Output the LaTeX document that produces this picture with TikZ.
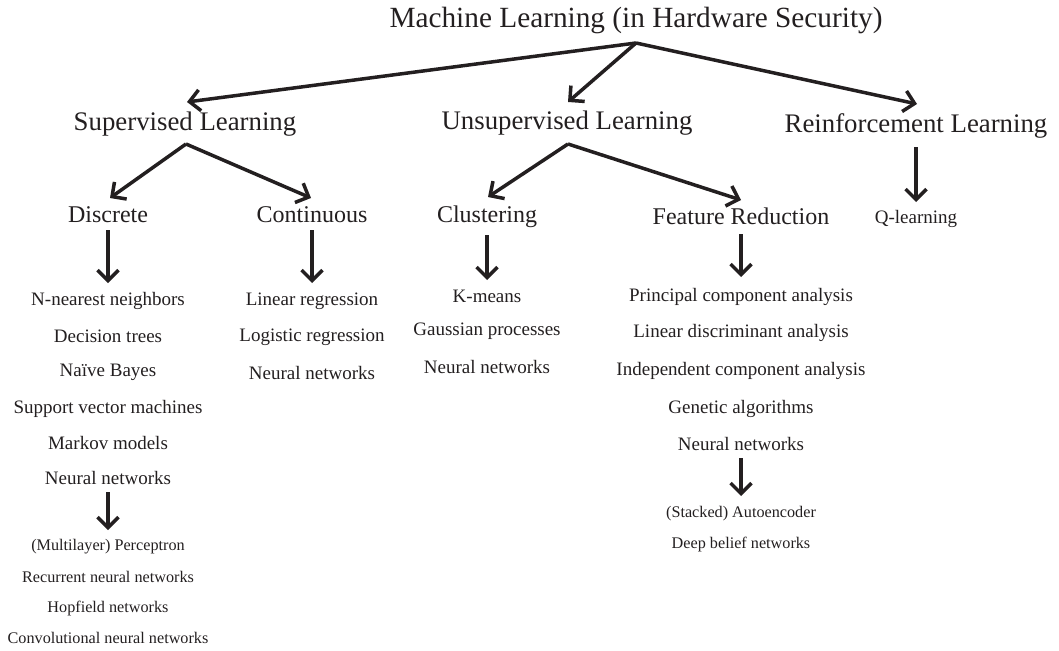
\documentclass[tikz,border=0pt]{standalone}
\usepackage{fontspec}
\setmainfont{Liberation Serif}
\usetikzlibrary{arrows.meta,calc}
\definecolor{ink}{RGB}{35,31,32}
\begin{document}
\begin{tikzpicture}[x=1pt,y=-1pt,
  every node/.style={inner sep=0pt, anchor=base, text=ink},
  lvlzero/.style={font=\fontsize{29.3}{32}\selectfont},
  lvlone/.style={font=\fontsize{26.8}{30}\selectfont},
  lvltwo/.style={font=\fontsize{24}{27}\selectfont},
  itemtext/.style={font=\fontsize{19}{22}\selectfont},
  subtext/.style={font=\fontsize{16.2}{19}\selectfont},
  arr/.style={draw=ink, line width=3.5pt, -{Straight Barb[length=10.5pt,width=21pt]}}
]
\useasboundingbox (0,0) rectangle (1059,650);

% level 0
\node[lvlzero] (title) at (636,28) {Machine Learning (in Hardware Security)};
% level 1
\node[lvlone] (sup) at (185,131) {Supervised Learning};
\node[lvlone] (uns) at (567,129) {Unsupervised Learning};
\node[lvlone] (rei) at (916,132) {Reinforcement Learning};
% level 2
\node[lvltwo] (disc) at (108,222) {Discrete};
\node[lvltwo] (cont) at (312,222) {Continuous};
\node[lvltwo] (clus) at (487,222) {Clustering};
\node[lvltwo] (fr) at (741,224) {Feature Reduction};
\node[itemtext] (q) at (916,223) {Q-learning};

% discrete items
\node[itemtext] (d1) at (108,305) {N-nearest neighbors};
\node[itemtext] (d2) at (108,342) {Decision trees};
\node[itemtext] (d3) at (108,376) {Naïve Bayes};
\node[itemtext] (d4) at (108,413) {Support vector machines};
\node[itemtext] (d5) at (108,449) {Markov models};
\node[itemtext] (d6) at (108,484) {Neural networks};
\node[subtext] (s1) at (108,550) {(Multilayer) Perceptron};
\node[subtext] (s2) at (108,582) {Recurrent neural networks};
\node[subtext] (s3) at (108,612) {Hopfield networks};
\node[subtext] (s4) at (108,643) {Convolutional neural networks};

% continuous items
\node[itemtext] (c1) at (312,305) {Linear regression};
\node[itemtext] (c2) at (312,341) {Logistic regression};
\node[itemtext] (c3) at (312,379) {Neural networks};

% clustering items
\node[itemtext] (k1) at (487,302) {K-means};
\node[itemtext] (k2) at (487,335) {Gaussian processes};
\node[itemtext] (k3) at (487,373) {Neural networks};

% feature reduction items
\node[itemtext] (f1) at (741,301) {Principal component analysis};
\node[itemtext] (f2) at (741,337) {Linear discriminant analysis};
\node[itemtext] (f3) at (741,375) {Independent component analysis};
\node[itemtext] (f4) at (741,413) {Genetic algorithms};
\node[itemtext] (f5) at (741,450) {Neural networks};
\node[subtext] (g1) at (741,517) {(Stacked) Autoencoder};
\node[subtext] (g2) at (741,548) {Deep belief networks};

% arrows
\draw[arr] ($(title.base)+(0,15)$) -- ($(sup.base)+(2,-29)$);
\draw[arr] ($(title.base)+(0,15)$) -- ($(uns.base)+(1,-27)$);
\draw[arr] ($(title.base)+(0,15)$) -- ($(rei.base)+(1,-28)$);

\draw[arr] ($(sup.base)+(1,13)$) -- ($(disc.base)+(2,-24)$);
\draw[arr] ($(sup.base)+(1,13)$) -- ($(cont.base)+(-1,-24)$);
\draw[arr] ($(uns.base)+(1,15)$) -- ($(clus.base)+(1,-25)$);
\draw[arr] ($(uns.base)+(1,15)$) -- ($(fr.base)+(0,-24)$);
\draw[arr] ($(rei.base)+(0,15)$) -- ($(q.base)+(0,-21)$);

\draw[arr] ($(disc.base)+(0,8)$) -- ($(d1.base)+(0,-22)$);
\draw[arr] ($(cont.base)+(0,8)$) -- ($(c1.base)+(0,-22)$);
\draw[arr] ($(clus.base)+(0,13)$) -- ($(k1.base)+(0,-22)$);
\draw[arr] ($(fr.base)+(0,10)$) -- ($(f1.base)+(0,-24)$);
\draw[arr] ($(d6.base)+(0,8)$) -- ($(s1.base)+(0,-20)$);
\draw[arr] ($(f5.base)+(0,8)$) -- ($(g1.base)+(0,-21)$);
\end{tikzpicture}
\end{document}
